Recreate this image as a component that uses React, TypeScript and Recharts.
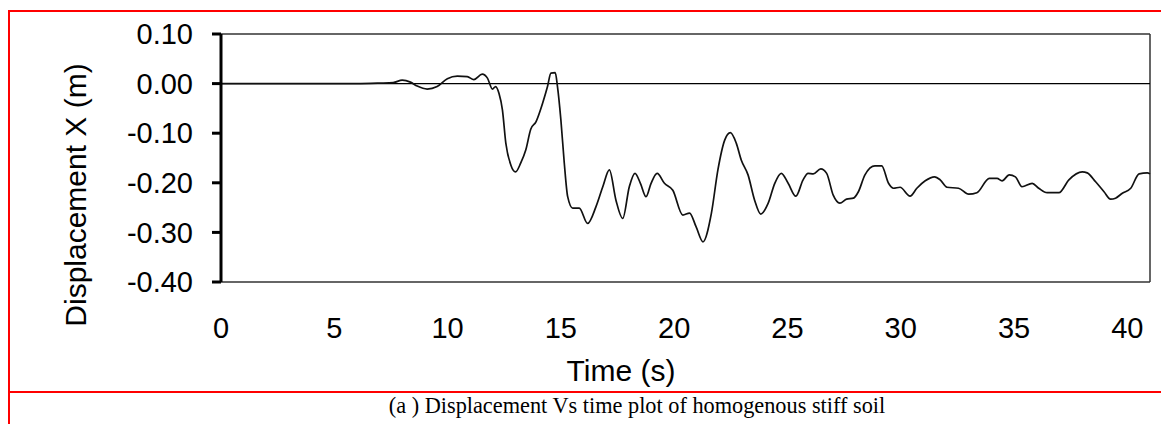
import React from "react";
import {
  LineChart,
  Line,
  XAxis,
  YAxis,
  ReferenceLine,
} from "recharts";

// time (s) and displacement X (m)
const times = [
  0, 2, 4, 6, 7, 7.6, 8.0, 8.36, 8.66, 9.1, 9.54, 9.99, 10.43, 10.87, 11.16,
  11.53, 11.76, 11.98, 12.12, 12.27, 12.42, 12.57, 12.79, 13.0, 13.23, 13.45,
  13.67, 13.9, 14.19, 14.41, 14.56, 14.75, 14.85, 15.0, 15.15, 15.3, 15.52,
  15.81, 16.18, 16.55, 16.85, 17.14, 17.43, 17.73, 18.02, 18.27, 18.51, 18.76,
  18.98, 19.25, 19.57, 19.94, 20.38, 20.68, 20.97, 21.27, 21.64, 21.93, 22.23,
  22.48, 22.74, 22.96, 23.26, 23.55, 23.82, 24.15, 24.44, 24.73, 25.03, 25.37,
  25.69, 25.91, 26.14, 26.47, 26.73, 27.02, 27.31, 27.61, 27.91, 28.13, 28.42,
  28.86, 29.16, 29.46, 29.68, 29.97, 30.41, 30.71, 31.08, 31.49, 31.74, 32.04,
  32.55, 33.0, 33.36, 33.91, 34.25, 34.47, 34.79, 35.06, 35.35, 35.8, 36.09,
  36.46, 36.98, 37.42, 38.01, 38.23, 38.6, 38.97, 39.26, 39.48, 39.78, 40.15,
  40.52, 40.88, 41.0,
];

const displacement = [
  0, 0, 0, 0, 0.001, 0.002, 0.007, 0.003, -0.005, -0.011, -0.006, 0.01, 0.015,
  0.014, 0.008, 0.019, 0.011, -0.011, -0.006, -0.02, -0.053, -0.12, -0.164,
  -0.178, -0.16, -0.134, -0.092, -0.077, -0.04, -0.006, 0.021, 0.022, -0.006,
  -0.073, -0.16, -0.228, -0.251, -0.251, -0.282, -0.248, -0.208, -0.174,
  -0.235, -0.272, -0.208, -0.181, -0.201, -0.228, -0.201, -0.181, -0.201,
  -0.215, -0.265, -0.261, -0.289, -0.319, -0.262, -0.174, -0.114, -0.099,
  -0.12, -0.154, -0.184, -0.235, -0.263, -0.241, -0.201, -0.181, -0.201,
  -0.227, -0.194, -0.181, -0.182, -0.172, -0.181, -0.225, -0.241, -0.233,
  -0.231, -0.218, -0.184, -0.166, -0.166, -0.201, -0.211, -0.209, -0.227,
  -0.211, -0.196, -0.188, -0.194, -0.209, -0.211, -0.223, -0.22, -0.191,
  -0.191, -0.196, -0.184, -0.188, -0.208, -0.201, -0.211, -0.22, -0.22,
  -0.194, -0.178, -0.18, -0.198, -0.218, -0.233, -0.231, -0.221, -0.211,
  -0.182, -0.18, -0.182,
];

const xTicks = [0, 5, 10, 15, 20, 25, 30, 35, 40];
const yTicks = [0.1, 0, -0.1, -0.2, -0.3, -0.4];

const data = times.map((t, i) => ({ t, d: displacement[i] }));

const sans = "'Liberation Sans', Arial, sans-serif";
const borderColor = "#333";

export default function App() {
  return (
    <div
      style={{
        position: "relative",
        width: 1161,
        height: 416,
        overflow: "hidden",
        background: "#fff",
      }}
    >
      {/* red frame around figure */}
      <div
        style={{
          position: "absolute",
          left: 0,
          top: 2,
          width: 1200,
          height: 379,
          border: "2px solid red",
          borderRight: "none",
        }}
      />
      <div
        style={{
          position: "absolute",
          left: 0,
          top: 385,
          width: 2,
          height: 40,
          background: "red",
        }}
      />

      <div style={{ position: "absolute", left: 0, top: 0 }}>
        <LineChart
          width={1161}
          height={380}
          data={data}
          margin={{ top: 26, right: 19, left: 113, bottom: 46 }}
        >
          <XAxis
            dataKey="t"
            type="number"
            domain={[0, 41]}
            ticks={xTicks}
            tickLine={false}
            tickSize={0}
            tickMargin={35}
            height={60}
            axisLine={{ stroke: borderColor, strokeWidth: 1.5 }}
            tick={{ fill: "#000", fontSize: 29, fontFamily: sans }}
            label={{
              content: () => (
                <text
                  x={613}
                  y={362}
                  textAnchor="middle"
                  dominantBaseline="central"
                  fontSize={30}
                  fontFamily={sans}
                  fill="#000"
                >
                  Time (s)
                </text>
              ),
            }}
          />
          <YAxis
            type="number"
            domain={[-0.4, 0.1]}
            ticks={yTicks}
            width={100}
            tickSize={9}
            tickMargin={19}
            interval={0}
            tickFormatter={(v: number) => v.toFixed(2)}
            axisLine={{ stroke: "#000", strokeWidth: 3 }}
            tickLine={{ stroke: "#000", strokeWidth: 3 }}
            tick={{ fill: "#000", fontSize: 29, fontFamily: sans }}
            label={{
              content: () => (
                <text
                  x={67}
                  y={187}
                  transform="rotate(-90 67 187)"
                  textAnchor="middle"
                  dominantBaseline="central"
                  fontSize={30}
                  fontFamily={sans}
                  fill="#000"
                >
                  Displacement X (m)
                </text>
              ),
            }}
          />
          <ReferenceLine y={0.1} stroke={borderColor} strokeWidth={1.5} />
          <ReferenceLine x={41} stroke={borderColor} strokeWidth={1.5} />
          <ReferenceLine y={0} stroke="#000" strokeWidth={1.2} />
          <Line
            type="monotone"
            dataKey="d"
            stroke="#111"
            strokeWidth={1.7}
            dot={false}
            isAnimationActive={false}
          />
        </LineChart>
      </div>

      <div
        style={{
          position: "absolute",
          left: 629,
          top: 398,
          transform: "translate(-50%, -50%)",
          whiteSpace: "nowrap",
          fontFamily: "'Liberation Serif', 'Times New Roman', serif",
          fontSize: 22.3,
          color: "#000",
        }}
      >
        (a ) Displacement Vs time plot of homogenous stiff soil
      </div>
    </div>
  );
}
